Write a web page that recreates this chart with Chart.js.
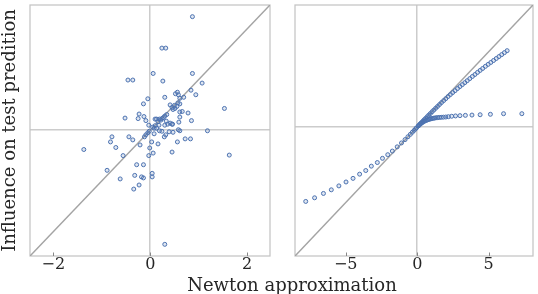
<!DOCTYPE html>
<html>
<head>
<meta charset="utf-8">
<script src="https://cdn.jsdelivr.net/npm/chart.js@4.4.1/dist/chart.umd.min.js"></script>
<style>
    html, body { margin: 0; padding: 0; background: #fff; }
    #wrap { position: relative; width: 538px; height: 294px; overflow: hidden; }
    #left { position: absolute; left: 0; top: 0; }
    #right { position: absolute; left: 280px; top: 0; }
    #xlabel {
        position: absolute; left: 142px; top: 276px; width: 300px;
        text-align: center; font: 18px "DejaVu Serif"; line-height: 18px; color: #262626;
    }
</style>
</head>
<body>
<div id="wrap">
    <canvas id="left" width="280" height="294"></canvas>
    <canvas id="right" width="258" height="294"></canvas>
    <div id="xlabel">Newton approximation</div>
</div>
<script>
// axis limits (same for x and y in each panel)
const leftLim = [-2.48, 2.47]
const rightLim = [-8.55, 8.1]
const leftTickStep = 2
const rightTickStep = 5

// left panel: Newton approximation vs actual influence
const leftX = [0.87, 0.24, 0.32, 0.06, 0.87, -0.46, -0.36, 0.26, 1.07, 0.84,
    0.94, 0.52, 0.56, 0.58, 0.69, 0.61, 0.30, -0.05, -0.14, 0.41,
    0.61, 0.57, 0.55, 0.51, 0.47, 0.50, 0.45, 1.53, 0.66, 0.61,
    0.78, -0.23, 0.30, 0.27, 0.34, -0.52, -0.25, -0.13, 0.61, -0.09,
    0.13, 0.19, 0.24, 0.22, 0.16, 0.85, 0.59, 0.41, 0.36, 0.33,
    0.45, -0.03, 0.10, 0.18, 0.30, 0.05, 0.13, 0.08, 0.58, 0.61,
    0.47, 0.39, 0.19, 0.24, 1.18, 0.08, 0.32, 0.29, -0.09, -0.12,
    -0.05, -0.02, -0.79, -0.82, -0.44, -0.36, 0.72, 0.83, 0.56, 0.03,
    0.16, -0.21, -0.71, -0.01, -1.37, 0.45, -0.56, -0.03, 0.06, 1.63,
    -0.28, -0.14, -0.89, -0.32, -0.18, -0.14, 0.04, 0.04, -0.62, -0.23,
    -0.34, 0.30, 0.10, 0.46]
const leftY = [2.24, 1.62, 1.62, 1.12, 1.12, 0.99, 0.99, 0.97, 0.93, 0.79,
    0.70, 0.72, 0.75, 0.70, 0.65, 0.63, 0.65, 0.62, 0.52, 0.50,
    0.52, 0.54, 0.47, 0.43, 0.41, 0.49, 0.45, 0.43, 0.37, 0.36,
    0.34, 0.32, 0.28, 0.25, 0.31, 0.24, 0.23, 0.27, 0.26, 0.19,
    0.22, 0.22, 0.23, 0.20, 0.17, 0.19, 0.16, 0.14, 0.12, 0.18,
    0.12, 0.10, 0.09, 0.10, 0.10, 0.06, 0.04, 0.04, 0.01, -0.01,
    -0.04, -0.03, -0.01, -0.02, -0.01, -0.07, -0.09, -0.13, -0.09, -0.13,
    -0.05, -0.02, -0.13, -0.23, -0.13, -0.19, -0.17, -0.17, -0.23, -0.23,
    -0.27, -0.29, -0.34, -0.35, -0.38, -0.43, -0.50, -0.50, -0.45, -0.49,
    -0.68, -0.68, -0.79, -0.89, -0.92, -0.94, -0.85, -0.92, -0.96, -1.08,
    -1.16, -2.25, 0.22, 0.12]

// right panel: three branches
const rightX = [
    -7.80, -7.18, -6.56, -6.01, -5.48, -4.98, -4.49, -4.03, -3.60, -3.21,
    -2.79, -2.43, -2.06, -1.74, -1.40, -1.10, -0.85, -0.65, -0.48, -0.34,
    -0.22, -0.12, -0.05,
    6.29, 6.10, 5.91, 5.72, 5.53, 5.34, 5.15, 4.96, 4.77, 4.58,
    4.40, 4.22, 4.04, 3.86, 3.68, 3.50, 3.33, 3.16, 2.99, 2.82,
    2.65, 2.48, 2.32, 2.16, 2.00, 1.85, 1.70, 1.56, 1.42, 1.29,
    1.16, 1.04, 0.92, 0.81, 0.70, 0.60, 0.50, 0.41, 0.32, 0.24,
    0.16, 0.08,
    7.32, 6.04, 5.12, 4.40, 3.83, 3.37, 2.99, 2.68, 2.41, 2.18,
    2.00, 1.83, 1.68, 1.55, 1.43, 1.32, 1.22, 1.13, 1.04, 0.96,
    0.88, 0.80, 0.72, 0.64, 0.56, 0.48, 0.40, 0.32, 0.24, 0.16,
    0.08]
const rightY = [
    -4.93, -4.69, -4.40, -4.16, -3.90, -3.64, -3.40, -3.12, -2.88, -2.59,
    -2.35, -2.07, -1.83, -1.59, -1.31, -1.05, -0.83, -0.64, -0.48, -0.34,
    -0.22, -0.12, -0.05,
    5.07, 4.94, 4.81, 4.68, 4.55, 4.42, 4.29, 4.16, 4.03, 3.89,
    3.76, 3.63, 3.49, 3.36, 3.22, 3.08, 2.95, 2.82, 2.69, 2.56,
    2.42, 2.29, 2.16, 2.03, 1.89, 1.76, 1.63, 1.50, 1.37, 1.25,
    1.13, 1.02, 0.90, 0.80, 0.69, 0.59, 0.50, 0.41, 0.32, 0.24,
    0.16, 0.08,
    0.89, 0.89, 0.85, 0.82, 0.80, 0.78, 0.76, 0.74, 0.72, 0.69,
    0.67, 0.66, 0.65, 0.64, 0.63, 0.62, 0.60, 0.59, 0.57, 0.55,
    0.53, 0.51, 0.48, 0.45, 0.42, 0.38, 0.33, 0.28, 0.22, 0.15,
    0.08]

Chart.defaults.font.family = '"DejaVu Serif", serif'
Chart.defaults.color = '#262626'

const spineColor = '#c4c4c4'
const zeroColor = '#cccccc'

// box around the axes plus short inward x ticks
const frame = {
    id: 'frame',
    beforeDatasetsDraw(chart) {
        const { ctx, chartArea: a } = chart
        const xs = chart.scales.x
        ctx.save()
        ctx.strokeStyle = spineColor
        ctx.lineWidth = 1.25
        ctx.strokeRect(a.left, a.top, a.right - a.left, a.bottom - a.top)
        ctx.strokeStyle = '#888'
        ctx.lineWidth = 1
        xs.ticks.forEach(t => {
            const px = Math.round(xs.getPixelForValue(t.value)) + 0.5
            ctx.beginPath()
            ctx.moveTo(px, a.bottom)
            ctx.lineTo(px, a.bottom - 3.5)
            ctx.stroke()
        })
        ctx.restore()
    }
}

function zeroGrid(c) {
    return c.tick && c.tick.value === 0 ? zeroColor : 'rgba(0,0,0,0)'
}

function renderPanel(canvas, xs, ys, lim, step, withTitle, padding) {
    const points = xs.map((x, i) => ({ x: x, y: ys[i] }))
    return new Chart(canvas, {
        type: 'scatter',
        data: {
            datasets: [{
                data: points,
                pointStyle: 'circle',
                pointRadius: 2,
                pointBorderWidth: 1,
                borderColor: '#4c72b0',
                backgroundColor: 'rgba(76,114,176,0.18)',
                order: 1
            }, {
                type: 'line',
                data: [{ x: lim[0], y: lim[0] }, { x: lim[1], y: lim[1] }],
                borderColor: '#a4a4a4',
                borderWidth: 1.5,
                pointRadius: 0,
                order: 2
            }]
        },
        options: {
            responsive: false,
            animation: false,
            layout: { padding: padding },
            plugins: { legend: { display: false }, tooltip: { enabled: false } },
            scales: {
                x: {
                    type: 'linear',
                    min: lim[0],
                    max: lim[1],
                    border: { display: false },
                    grid: { color: zeroGrid, lineWidth: 1.5, drawTicks: false },
                    ticks: {
                        stepSize: step,
                        includeBounds: false,
                        padding: -1,
                        font: { size: 16 },
                        maxRotation: 0,
                        callback: v => v < 0 ? '\u2212' + Math.abs(v) : '' + v
                    },
                    afterFit: s => { s.height = 38 }
                },
                y: {
                    type: 'linear',
                    min: lim[0],
                    max: lim[1],
                    border: { display: false },
                    grid: { color: zeroGrid, lineWidth: 1.5, drawTicks: false },
                    ticks: { display: false, stepSize: step, includeBounds: false },
                    title: {
                        display: withTitle,
                        text: 'Influence on test predition',
                        font: { size: 18 },
                        padding: 0
                    },
                    afterFit: s => { s.width = withTitle ? 30 : 0 }
                }
            }
        },
        plugins: [frame]
    })
}

renderPanel(document.getElementById('left'), leftX, leftY, leftLim, leftTickStep, true,
    { left: 0, right: 10, top: 1, bottom: 0 })
renderPanel(document.getElementById('right'), rightX, rightY, rightLim, rightTickStep, false,
    { left: 15, right: 1, top: 1, bottom: 0 })
</script>
</body>
</html>
